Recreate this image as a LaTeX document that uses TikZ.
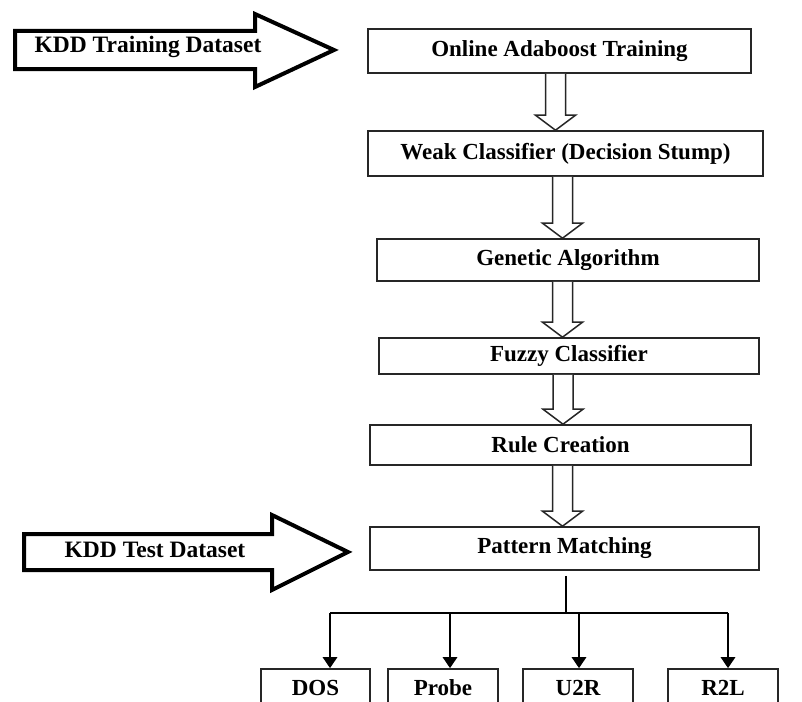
\documentclass[tikz,border=0pt]{standalone}
\usepackage{fontspec}
\setmainfont{Liberation Serif}
\usetikzlibrary{calc,arrows.meta}

% hollow block arrow from the bottom of #1 down to the top of #2, centred on x = #3
\newcommand\blockdown[3]{%
  \path (#3,0 |- #1.south) coordinate (bt) (#3,0 |- #2.north) coordinate (bb);
  \draw[hollow] ($(bt)+(-10,0)$) -- ($(bb)+(-10,-15)$) -- ($(bb)+(-20,-15)$) -- (bb)
    -- ($(bb)+(20,-15)$) -- ($(bb)+(10,-15)$) -- ($(bt)+(10,0)$);
}

\begin{document}
\begin{tikzpicture}[x=1pt,y=-1pt,
  box/.style={draw=black!85, line width=1.6pt, fill=white, inner sep=0pt,
    font=\fontsize{23}{26}\selectfont\bfseries},
  hollow/.style={draw=black!85, line width=1.5pt, fill=white, line join=miter},
  bigarrow/.style={draw=black, line width=4pt, fill=white, line join=miter, miter limit=10},
  lbl/.style={font=\fontsize{23.5}{26}\selectfont\bfseries, inner sep=0pt},
  bus/.style={line width=2.4pt},
  thinline/.style={line width=1.5pt},
  branch/.style={line width=2.8pt, -{Triangle[width=14pt,length=11pt]}}]
\useasboundingbox (0,0) rectangle (802,701);
\clip (0,0) rectangle (802,701);

% input arrows
\draw[bigarrow] (15,31) -- (255,31) -- (255,14) -- (334,50) -- (255,87) -- (255,69) -- (15,69) -- cycle;
\node[lbl] (train) at (148,47) {KDD Training Dataset};
\draw[bigarrow] (24,534) -- (272,534) -- (272,515) -- (348,552) -- (272,590) -- (272,570) -- (24,570) -- cycle;
\node[lbl] (test) at (155,550) {KDD Test Dataset};

% processing chain
\node[box, minimum width=383pt, minimum height=44pt] (b1) at (559.5,51) {Online Adaboost Training};
\node[box, minimum width=395pt, minimum height=45pt] (b2) at (565.5,153.5) {Weak Classifier (Decision Stump)};
\node[box, minimum width=382pt, minimum height=42pt] (b3) at (568,260) {Genetic Algorithm};
\node[box, minimum width=380pt, minimum height=36pt] (b4) at (569,356) {Fuzzy Classifier};
\node[box, minimum width=381pt, minimum height=40pt] (b5) at (560.5,445) {Rule Creation};
\node[box, minimum width=389pt, minimum height=43pt] (b6) at (564.5,548.5) {Pattern Matching};

\blockdown{b1}{b2}{555.5}
\blockdown{b2}{b3}{562.5}
\blockdown{b3}{b4}{562.5}
\blockdown{b4}{b5}{563}
\blockdown{b5}{b6}{562.5}

% attack classes
\node[box, minimum width=109pt, minimum height=38pt] (dos) at (315.5,688) {DOS};
\node[box, minimum width=110pt, minimum height=38pt] (probe) at (443,688) {Probe};
\node[box, minimum width=110pt, minimum height=38pt] (u2r) at (578,688) {U2R};
\node[box, minimum width=110pt, minimum height=38pt] (r2l) at (723,688) {R2L};

% distribution bus
\coordinate (hub) at (566,613);
\coordinate (busL) at (330,613);
\coordinate (busR) at (728,613);
\draw[thinline] ($(b6.south)+(1.5,5)$) -- (hub);
\draw[bus] (busL) -- (busR);
\draw[branch] (busL) -- (busL |- dos.north);
\draw[branch] (450,613) -- (450,0 |- probe.north);
\draw[branch] (579,613) -- (579,0 |- u2r.north);
\draw[branch] (busR) -- (busR |- r2l.north);
\end{tikzpicture}
\end{document}
